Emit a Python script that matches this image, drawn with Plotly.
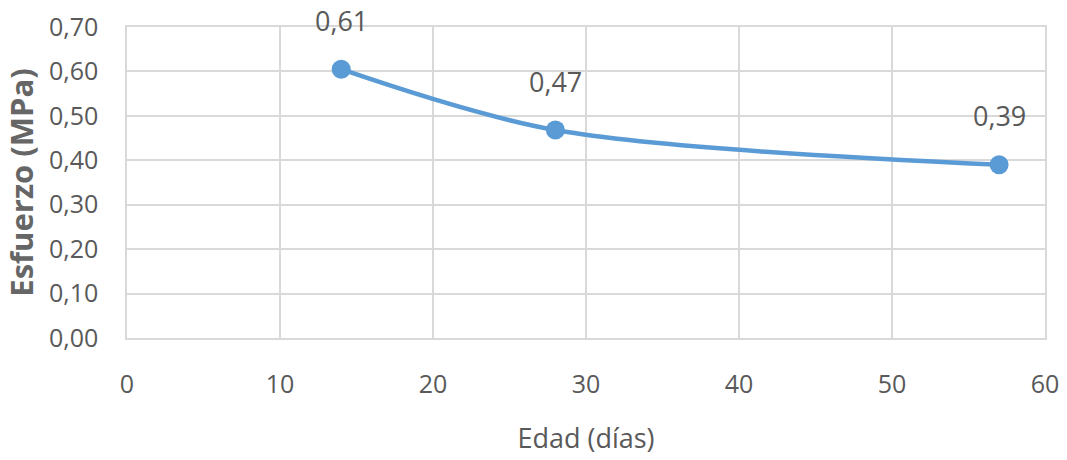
import plotly.graph_objects as go

edad = [14, 28, 57]
esfuerzo = [0.605, 0.468, 0.39]
etiquetas = ["0,61", "0,47", "0,39"]
y_ticks = [0.0, 0.1, 0.2, 0.3, 0.4, 0.5, 0.6, 0.7]
x_ticks = [0, 10, 20, 30, 40, 50, 60]

blue = "#5B9BD5"
grey_text = "#595959"
grid = "#D9D9D9"
font_fam = "Open Sans, Noto Sans, sans-serif"

fig = go.Figure()
fig.add_trace(go.Scatter(
    x=edad, y=esfuerzo, mode="lines+markers",
    line=dict(color=blue, width=4.5, shape="spline", smoothing=0.9),
    marker=dict(color=blue, size=19),
    showlegend=False, hoverinfo="skip", cliponaxis=False,
))
for xv, yv, t in zip(edad, esfuerzo, etiquetas):
    fig.add_annotation(x=xv, y=yv, text=t, showarrow=False, yshift=49,
                       font=dict(family=font_fam, size=27, color=grey_text))

fig.update_layout(
    width=1067, height=460,
    margin=dict(l=127, r=22, t=27, b=122),
    paper_bgcolor="white", plot_bgcolor="white",
    separators=",.",
    font=dict(family=font_fam, color=grey_text, size=25),
)
fig.update_xaxes(
    range=[0, 60], tickvals=x_ticks, showgrid=True, gridcolor=grid, gridwidth=1.5,
    showline=True, linecolor=grid, linewidth=1.5, mirror=True, zeroline=False,
    ticks="", ticklabelstandoff=23, automargin=False,
    tickfont=dict(size=25, color=grey_text),
    title=dict(text="Edad (días)", font=dict(size=27, color=grey_text), standoff=30),
)
fig.update_yaxes(
    range=[0, 0.7], tickvals=y_ticks, tickformat=".2f", showgrid=True, gridcolor=grid,
    gridwidth=1.5, showline=True, linecolor=grid, linewidth=1.5, mirror=True, zeroline=False,
    ticks="", ticklabelstandoff=22, automargin=False,
    tickfont=dict(size=25, color=grey_text),
    title=dict(text="<b>Esfuerzo (MPa)</b>", font=dict(size=31, color="#666666"), standoff=8),
)
fig.write_html("out.html", config={"displayModeBar": False},
               post_script="document.body.style.margin='0';")
